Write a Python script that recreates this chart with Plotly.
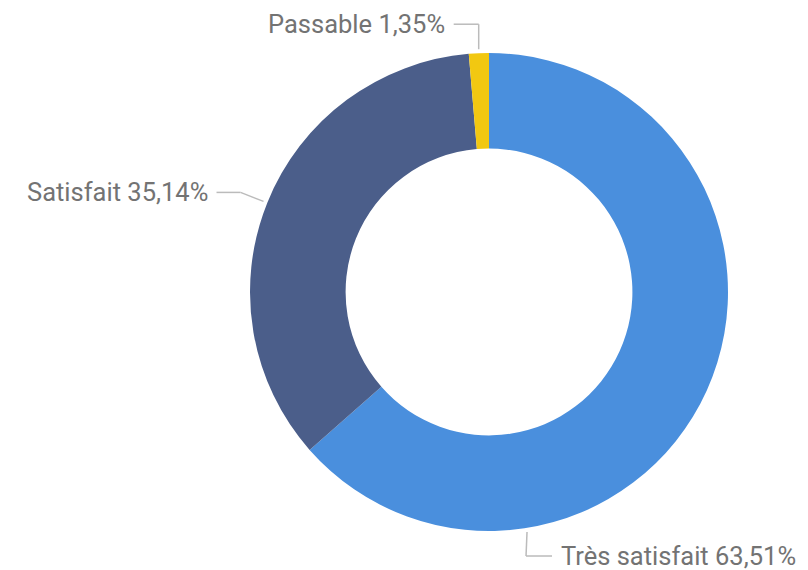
import math
import plotly.graph_objects as go

labels = ["Très satisfait", "Satisfait", "Passable"]
values = [63.51, 35.14, 1.35]
colors = ["#4A8FDD", "#4B5E8A", "#F2C811"]

OFF = 8                      # browser body margin
W, H = 808 - OFF, 570 - OFF  # figure size
CX, CY, R = 489, 292, 239    # pie center / radius in page pixels (layout)

def px(x, y):
    return (x - OFF) / W, 1 - (y - OFF) / H

x0d, y1d = px(CX - R, CY - R)
x1d, y0d = px(CX + R, CY + R)

fig = go.Figure()
fig.add_trace(go.Pie(
    labels=labels, values=values, sort=False, direction="clockwise", rotation=0,
    hole=0.6, textinfo="none", hoverinfo="label+percent",
    marker=dict(colors=colors, line=dict(width=0)),
    domain=dict(x=[x0d, x1d], y=[y0d, y1d]),
    showlegend=False,
))

total = sum(values)
cum = 0
mids = []
for v in values:
    mids.append((cum + v / 2) / total * 360)
    cum += v
# label anchor angles (Très satisfait label is moved to the bottom as in the reference)
anchor_angles = [171, mids[1], mids[2]]
# leader geometry: (elbow dx, elbow dy, horizontal length, side)
leaders = [(-1, 24, 26, 1), (-23, -9, 24, -1), (0, -25, 25, -1)]

shapes, annotations = [], []
for lab, v, ang, (edx, edy, hl, side) in zip(labels, values, anchor_angles, leaders):
    a = math.radians(ang)
    sx = CX + (R + 4) * math.sin(a)
    sy = CY - (R + 4) * math.cos(a)
    ex, ey = sx + edx, sy + edy
    hx = ex + side * hl
    for (xa, ya, xb, yb) in [(sx, sy, ex, ey), (ex, ey, hx, ey)]:
        p0, p1 = px(xa, ya), px(xb, yb)
        shapes.append(dict(type="line", xref="paper", yref="paper",
                           x0=p0[0], y0=p0[1], x1=p1[0], y1=p1[1],
                           line=dict(color="#BBBBBB", width=1.5)))
    tx, ty = px(hx + side * 7, ey)
    annotations.append(dict(
        x=tx, y=ty, xref="paper", yref="paper", showarrow=False,
        xanchor="left" if side > 0 else "right", yanchor="middle",
        text=f"{lab} {v:.2f}%".replace(".", ","),
        font=dict(family="Roboto", size=25.5, color="#737373"),
    ))

fig.update_layout(
    width=W, height=H, margin=dict(l=0, r=0, t=0, b=0),
    paper_bgcolor="white", plot_bgcolor="white",
    shapes=shapes, annotations=annotations,
)
fig.write_html("out.html")
